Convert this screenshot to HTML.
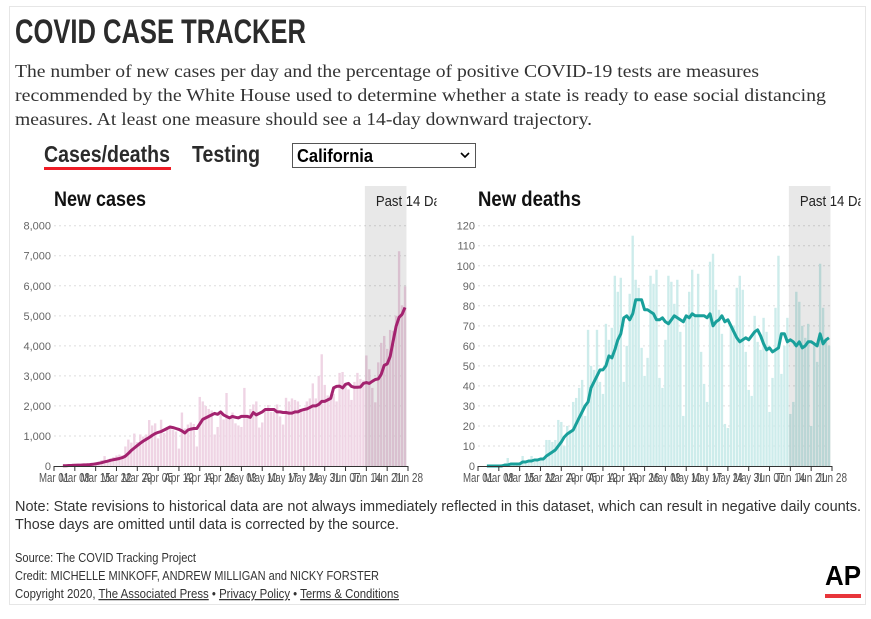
<!DOCTYPE html>
<html><head><meta charset="utf-8">
<style>
html,body{margin:0;padding:0;background:#fff;}
svg{display:block;}
.narrow{font-family:"Liberation Sans Narrow","Liberation Sans",sans-serif;}
.serif{font-family:"Liberation Serif",serif;}
</style></head>
<body>
<svg id="root" width="871" height="619" viewBox="0 0 871 619" xmlns="http://www.w3.org/2000/svg">
<rect x="9.5" y="6.5" width="856" height="598" fill="#fff" stroke="#e6e6e6"/>
<text class="narrow" x="15" y="43" font-size="34" font-weight="bold" fill="#2b2b2b" textLength="291" lengthAdjust="spacingAndGlyphs">COVID CASE TRACKER</text>
<g class="serif" font-size="18" fill="#333">
<text x="15" y="77" textLength="744" lengthAdjust="spacingAndGlyphs">The number of new cases per day and the percentage of positive COVID-19 tests are measures</text>
<text x="15" y="101" textLength="811" lengthAdjust="spacingAndGlyphs">recommended by the White House used to determine whether a state is ready to ease social distancing</text>
<text x="15" y="125" textLength="577" lengthAdjust="spacingAndGlyphs">measures. At least one measure should see a 14-day downward trajectory.</text>
</g>
<text class="narrow" x="44" y="162" font-size="23" font-weight="bold" fill="#2b2b2b" textLength="126" lengthAdjust="spacingAndGlyphs">Cases/deaths</text>
<rect x="44" y="167" width="127" height="3" fill="#ee1c25"/>
<text class="narrow" x="192" y="162" font-size="23" font-weight="bold" fill="#2b2b2b" textLength="68" lengthAdjust="spacingAndGlyphs">Testing</text>
<g>
<rect x="292.5" y="143.5" width="183" height="24" fill="#fff" stroke="#555"/>
<text class="narrow" x="297" y="162" font-size="18" font-weight="bold" fill="#000" textLength="76" lengthAdjust="spacingAndGlyphs">California</text>
<path d="M461 153 l4 4 l4 -4" fill="none" stroke="#000" stroke-width="1.6"/>
</g>
<g id="charts"></g>
<g class="narrow" fill="#333" font-size="15">
<text x="15" y="511" textLength="846" lengthAdjust="spacingAndGlyphs">Note: State revisions to historical data are not always immediately reflected in this dataset, which can result in negative daily counts.</text>
<text x="15" y="529" textLength="384" lengthAdjust="spacingAndGlyphs">Those days are omitted until data is corrected by the source.</text>
</g>
<g class="narrow" fill="#333" font-size="12.5">
<text x="15" y="562" textLength="181" lengthAdjust="spacingAndGlyphs">Source: The COVID Tracking Project</text>
<text x="15" y="580" textLength="364" lengthAdjust="spacingAndGlyphs">Credit: MICHELLE MINKOFF, ANDREW MILLIGAN and NICKY FORSTER</text>
<text x="15" y="598" textLength="384" lengthAdjust="spacingAndGlyphs">Copyright 2020, <tspan text-decoration="underline">The Associated Press</tspan> • <tspan text-decoration="underline">Privacy Policy</tspan> • <tspan text-decoration="underline">Terms &amp; Conditions</tspan></text>
</g>
<text class="narrow" x="825" y="585" font-size="28" font-weight="bold" fill="#000" textLength="36" lengthAdjust="spacingAndGlyphs">AP</text>
<rect x="825" y="594" width="36" height="4" fill="#e8353a"/>
</svg>
<script>
const dayCount = 116; // Mar 04 .. Jun 27
const xTickLabels = ["Mar 01","Mar 08","Mar 15","Mar 22","Mar 29","Apr 05","Apr 12","Apr 19","Apr 26","May 03","May 10","May 17","May 24","May 31","Jun 07","Jun 14","Jun 21","Jun 28"];
const caseTicks = [0,1000,2000,3000,4000,5000,6000,7000,8000];
const caseTickLabels = ["0","1,000","2,000","3,000","4,000","5,000","6,000","7,000","8,000"];
const deathTicks = [0,10,20,30,40,50,60,70,80,90,100,110,120];
const cases = [5,10,15,20,30,40,50,60,70,80,100,120,150,200,
330,150,250,300,350,380,350,
650,880,780,1080,800,1050,980,
1050,1530,1350,1420,920,1540,1100,
1300,1250,1200,1150,580,1780,1250,
1380,1450,1400,650,2300,2150,2000,
1900,1850,1050,1300,1750,1550,2430,
1550,1780,1420,1350,1300,2600,1700,
1900,2050,2150,1280,1450,1850,2030,
1800,1820,2050,1650,1380,2270,2150,
2250,2200,2150,1900,1850,2150,2250,
2750,2250,3000,3720,2700,2350,2300,
2400,2150,3100,3130,2700,2550,2200,
2800,3100,2900,2850,3680,3220,2600,
2120,3450,4100,4330,3900,4530,4500,
5000,7150,5350,5980];
const casesAvg = [10,10,15,20,25,30,30,35,40,45,55,70,90,110,
140,160,190,210,230,250,280,
330,420,520,600,680,760,830,
890,950,1020,1080,1120,1150,1200,
1250,1300,1280,1250,1220,1170,1100,
1200,1230,1250,1250,1400,1550,1600,
1650,1700,1750,1720,1800,1700,1650,
1600,1650,1620,1600,1650,1650,1650,
1620,1780,1700,1750,1800,1880,1880,
1880,1880,1800,1800,1780,1780,1760,
1760,1800,1800,1850,1880,1900,1950,
2000,2000,2050,2150,2150,2200,2250,
2600,2650,2660,2600,2720,2750,2650,
2620,2620,2630,2750,2780,2750,2820,
2880,2900,3050,3350,3400,3650,4150,
4650,4950,5050,5280];
const deaths = [0,0,0,0,0,1,0,4,1,1,1,1,5,2,
2,5,2,3,3,3,13,
13,12,13,23,22,10,20,
18,32,34,39,43,25,68,
50,48,68,42,36,71,63,
69,95,87,94,42,60,86,
115,93,89,59,45,54,95,
91,98,44,39,63,95,92,
81,93,67,25,75,87,98,
75,96,57,41,32,102,106,
88,78,66,21,19,70,70,
89,95,88,57,38,35,75,
62,58,74,67,27,44,79,
105,46,60,74,26,32,87,82,70,64,71,20,61,52,101,79,62,60];
const deathsAvg = [0,0,0,0,0,0,0.5,0.5,1,1,1,1,2,2,
2.5,2.5,3,3,3.5,3.5,5,
6,7,8,10,12,14.5,16,
17,18,21,24,27,30,32,
39,42,45,48,48,50,55,
54,58,63,66,74,75,73,
76,83,83,83,78,78,77,
76,73,73,74,72,71,73,
75,74,73,72,75,74,76,
75,75,75,75,74,76,70,
72,73,75,72,73,70,67,
64,62,63,64,63,65,67,
68,65,61,58,59,57,58,
59,66,66,62,63,62,60,
62,59,60,62,62,61,60,
66,61,63,64];

const NS = "http://www.w3.org/2000/svg";
const root = document.getElementById('charts');
function mk(tag, attrs, parent){
  const e = document.createElementNS(NS, tag);
  for (const k in attrs) e.setAttribute(k, attrs[k]);
  (parent||root).appendChild(e);
  return e;
}
function drawChart(cfg){
  const g = mk('g', {});
  
  
  const x0 = cfg.x0, x1 = cfg.x0 + 354, yTop = 225.7, yBot = 466;
  const tickStep = (x1 - x0) / (xTickLabels.length - 1);
  const dayW = tickStep / 7;
  const xDay = i => x0 + (i + 3) * dayW; // day 0 = Mar 04
  const yS = v => yBot - v / cfg.max * (yBot - yTop);
  const shadeX = xDay(dayCount - 14) - dayW / 2;
  const shadeW = xDay(dayCount - 1) + dayW / 2 - shadeX;
  const t = mk('text', {x: x0, y: 206, 'font-size': 21, 'font-weight': 'bold', fill: '#111', class: 'narrow', textLength: cfg.titleLen, lengthAdjust: 'spacingAndGlyphs'}, g);
  t.textContent = cfg.title;
  
  
  cfg.ticks.forEach((v, k) => {
    const y = yS(v);
    if (v > 0) {
      const gl = mk('line', {x1: x0, x2: x1, y1: y, y2: y, stroke: '#ddd', 'stroke-dasharray': '2,3'}, g);
      
      
    }
    const tl = mk('text', {x: x0 - 3, y: y + 4, 'font-size': 11, fill: '#666', 'text-anchor': 'end', class: 'narrow'}, g);
    tl.textContent = cfg.tickLabels[k];
    
    
  });
  cfg.values.forEach((v, i) => {
    const y = yS(v);
    const b = mk('rect', {x: xDay(i) - dayW / 2 + 0.3, y: y, width: dayW - 0.6, height: yBot - y, fill: cfg.barColor}, g);
    
    
  });
  const sh = mk('rect', {x: shadeX, y: 186, width: shadeW, height: yBot - 186, fill: '#000', 'fill-opacity': 0.09}, g);
  
  
  const clipId = cfg.name + '-clip';
  const cp = mk('clipPath', {id: clipId}, g);
  mk('rect', {x: shadeX, y: 186, width: shadeW + 30, height: 40}, cp);
  const st = mk('text', {x: shadeX + 11, y: 206, 'font-size': 15, fill: '#222', class: 'narrow', textLength: 78, lengthAdjust: 'spacingAndGlyphs', 'clip-path': 'url(#' + clipId + ')'}, g);
  st.textContent = 'Past 14 Days';
  
  
  const d = cfg.avg.map((v, i) => (i ? 'L' : 'M') + xDay(i).toFixed(1) + ' ' + yS(v).toFixed(1)).join(' ');
  const ln = mk('path', {d: d, fill: 'none', stroke: cfg.lineColor, 'stroke-width': 3, 'stroke-linejoin': 'round'}, g);
  
  
  const ax = mk('line', {x1: x0, x2: x1, y1: yBot + 0.5, y2: yBot + 0.5, stroke: '#333'}, g);
  
  
  xTickLabels.forEach((lab, k) => {
    const x = x0 + k * tickStep;
    const tk = mk('line', {x1: x, x2: x, y1: yBot, y2: yBot + 5, stroke: '#333'}, g);
    
    
    const tl = mk('text', {x: x - 15, y: 482, 'font-size': 12.5, fill: '#555', class: 'narrow', textLength: 30, lengthAdjust: 'spacingAndGlyphs'}, g);
    tl.textContent = lab;
    
    
  });
}
drawChart({name: 'new-cases-chart', title: 'New cases', titleLen: 92, x0: 54, max: 8000, ticks: caseTicks, tickLabels: caseTickLabels, values: cases, avg: casesAvg, barColor: '#efd4e4', lineColor: '#a3226f'});
drawChart({name: 'new-deaths-chart', title: 'New deaths', titleLen: 103, x0: 478, max: 120, ticks: deathTicks, tickLabels: deathTicks.map(String), values: deaths, avg: deathsAvg, barColor: '#cdeceb', lineColor: '#19a09b'});
</script>
</body></html>
